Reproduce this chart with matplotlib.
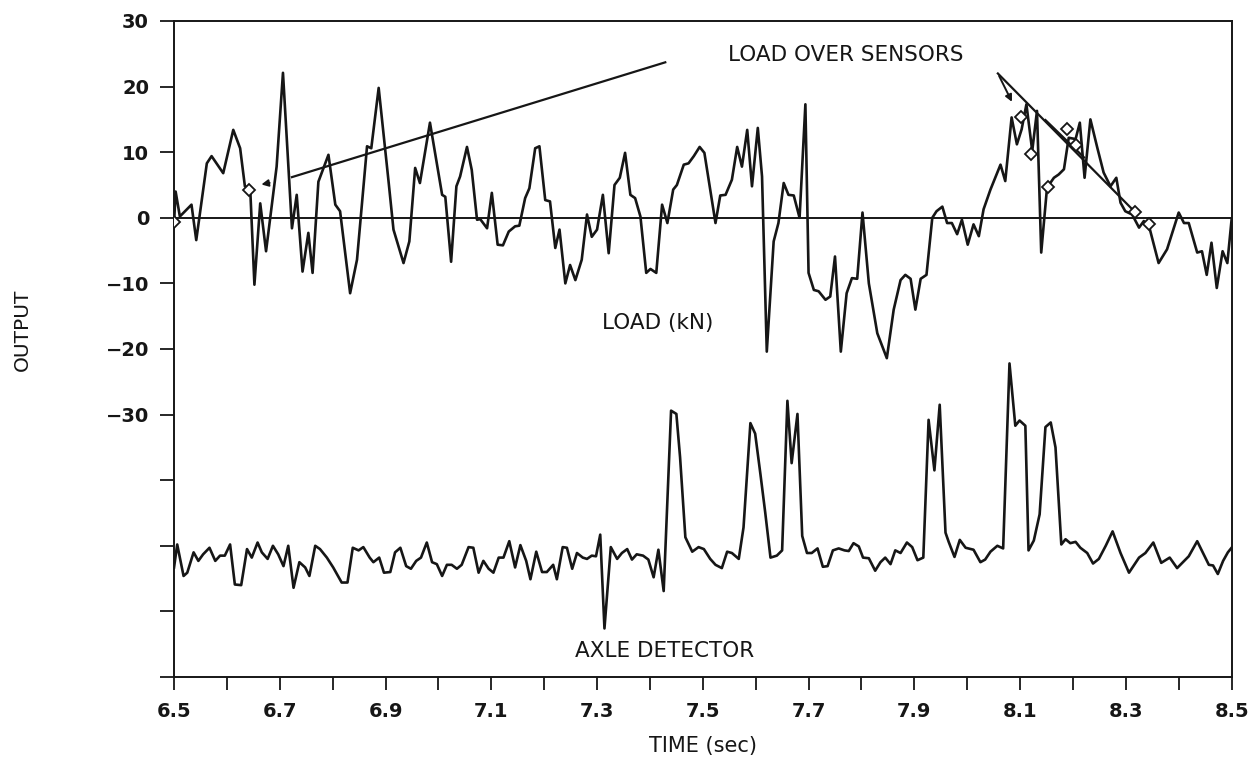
import matplotlib
matplotlib.use("Agg")
import matplotlib.pyplot as plt
import numpy as np

# ---------------- data ----------------
load_t = [6.500, 6.503, 6.511, 6.533, 6.542, 6.562, 6.571, 6.593, 6.612, 6.625, 6.634, 6.644,
          6.652, 6.663, 6.674, 6.694, 6.706, 6.723, 6.732, 6.743, 6.754, 6.762, 6.773, 6.792,
          6.805, 6.814, 6.833, 6.846, 6.865, 6.873, 6.887, 6.906, 6.915, 6.934, 6.945, 6.956,
          6.965, 6.984, 7.007, 7.013, 7.024, 7.034, 7.041, 7.054, 7.063, 7.073, 7.079, 7.092,
          7.101, 7.112, 7.122, 7.133, 7.145, 7.153, 7.164, 7.172, 7.183, 7.191, 7.202, 7.211,
          7.221, 7.229, 7.240, 7.249, 7.259, 7.271, 7.281, 7.290, 7.300, 7.311, 7.322, 7.333,
          7.343, 7.353, 7.363, 7.372, 7.382, 7.393, 7.401, 7.412, 7.423, 7.433, 7.444, 7.451,
          7.464, 7.473, 7.483, 7.494, 7.503, 7.513, 7.524, 7.533, 7.543, 7.555, 7.565, 7.574,
          7.584, 7.593, 7.604, 7.612, 7.621, 7.634, 7.643, 7.653, 7.662, 7.672, 7.683, 7.694,
          7.700, 7.710, 7.719, 7.732, 7.741, 7.750, 7.761, 7.772, 7.782, 7.792, 7.802, 7.814,
          7.830, 7.848, 7.861, 7.874, 7.883, 7.893, 7.902, 7.912, 7.923, 7.934, 7.942, 7.953,
          7.962, 7.971, 7.981, 7.990, 8.001, 8.012, 8.022, 8.031, 8.044, 8.063, 8.072, 8.084,
          8.094, 8.103, 8.112, 8.123, 8.132, 8.140, 8.151, 8.164, 8.173, 8.183, 8.192, 8.205,
          8.213, 8.222, 8.233, 8.246, 8.258, 8.271, 8.282, 8.290, 8.299, 8.312, 8.325, 8.334,
          8.344, 8.362, 8.378, 8.400, 8.410, 8.419, 8.435, 8.444, 8.453, 8.462, 8.472, 8.483,
          8.492, 8.500]
load_v = [-0.8, 4.0, 0.2, 2.0, -3.4, 8.3, 9.4, 6.8, 13.4, 10.6, 4.8, 4.5,
          -10.2, 2.2, -5.1, 7.8, 22.1, -1.6, 3.5, -8.2, -2.3, -8.4, 5.5, 9.6,
          2.0, 1.0, -11.5, -6.4, 10.9, 10.6, 19.8, 5.3, -1.8, -6.9, -3.6, 7.6,
          5.3, 14.5, 3.5, 3.2, -6.7, 4.8, 6.3, 10.8, 7.3, -0.3, -0.2, -1.6,
          3.8, -4.1, -4.2, -2.1, -1.3, -1.2, 3.0, 4.5, 10.6, 10.9, 2.7, 2.5,
          -4.6, -1.8, -10.0, -7.2, -9.5, -6.4, 0.5, -2.9, -1.8, 3.5, -5.4, 5.0,
          6.1, 9.9, 3.5, 3.0, 0.2, -8.4, -7.8, -8.4, 2.0, -0.8, 4.3, 5.0,
          8.1, 8.3, 9.4, 10.8, 9.9, 4.8, -0.8, 3.4, 3.5, 5.8, 10.8, 7.8,
          13.4, 4.8, 13.7, 6.3, -20.4, -3.6, -0.8, 5.3, 3.5, 3.4, 0.0, 17.3,
          -8.4, -11.0, -11.2, -12.5, -12.0, -5.9, -20.4, -11.5, -9.2, -9.3, 0.8, -10.0,
          -17.6, -21.4, -14.0, -9.5, -8.7, -9.3, -14.0, -9.3, -8.7, 0.0, 1.0, 1.7,
          -0.8, -0.8, -2.5, -0.3, -4.1, -1.0, -2.8, 1.3, 4.3, 8.1, 5.6, 15.3,
          11.2, 13.5, 17.3, 10.2, 16.3, -5.3, 4.6, 6.1, 6.6, 7.4, 12.2, 12.0,
          14.5, 6.1, 15.0, 10.7, 6.9, 4.8, 6.1, 2.3, 1.0, 0.5, -1.5, -0.5,
          -1.3, -6.9, -4.8, 0.8, -0.8, -0.8, -5.3, -5.1, -8.7, -3.8, -10.7, -5.1,
          -6.9, -0.3]

axle_t = [6.500, 6.506, 6.518, 6.525, 6.537, 6.546, 6.555, 6.567, 6.578, 6.587, 6.596, 6.606,
          6.615, 6.627, 6.638, 6.647, 6.658, 6.666, 6.677, 6.687, 6.697, 6.707, 6.716, 6.726,
          6.737, 6.748, 6.756, 6.767, 6.776, 6.789, 6.801, 6.817, 6.828, 6.838, 6.849, 6.858,
          6.870, 6.877, 6.888, 6.897, 6.909, 6.918, 6.928, 6.939, 6.948, 6.958, 6.967, 6.978,
          6.988, 6.997, 7.007, 7.016, 7.025, 7.035, 7.044, 7.057, 7.066, 7.076, 7.085, 7.095,
          7.104, 7.114, 7.123, 7.134, 7.145, 7.155, 7.166, 7.174, 7.185, 7.196, 7.205, 7.217,
          7.224, 7.235, 7.243, 7.253, 7.262, 7.273, 7.281, 7.290, 7.298, 7.306, 7.314, 7.326,
          7.338, 7.347, 7.357, 7.366, 7.375, 7.387, 7.397, 7.407, 7.416, 7.426, 7.440, 7.450,
          7.457, 7.467, 7.480, 7.492, 7.502, 7.514, 7.524, 7.536, 7.546, 7.555, 7.568, 7.577,
          7.590, 7.599, 7.609, 7.618, 7.628, 7.640, 7.650, 7.660, 7.668, 7.679, 7.688, 7.697,
          7.706, 7.717, 7.727, 7.736, 7.746, 7.757, 7.768, 7.776, 7.785, 7.795, 7.803, 7.814,
          7.826, 7.836, 7.845, 7.855, 7.864, 7.874, 7.886, 7.896, 7.906, 7.917, 7.927, 7.938,
          7.948, 7.959, 7.965, 7.976, 7.986, 7.997, 8.012, 8.025, 8.034, 8.044, 8.057, 8.068,
          8.080, 8.091, 8.099, 8.110, 8.116, 8.126, 8.137, 8.148, 8.158, 8.167, 8.178, 8.186,
          8.195, 8.205, 8.214, 8.227, 8.238, 8.249, 8.262, 8.275, 8.290, 8.306, 8.325, 8.337,
          8.352, 8.367, 8.383, 8.397, 8.419, 8.435, 8.457, 8.465, 8.474, 8.484, 8.493, 8.500]
axle_v = [-53.3, -49.8, -54.6, -54.1, -51.0, -52.3, -51.3, -50.3, -52.3, -51.5, -51.5, -49.8,
          -55.9, -56.0, -50.5, -51.8, -49.5, -51.0, -52.0, -50.0, -51.3, -53.1, -50.0, -56.4,
          -52.5, -53.3, -54.6, -50.0, -50.5, -51.8, -53.3, -55.6, -55.6, -50.3, -50.7, -50.2,
          -51.8, -52.5, -51.8, -54.1, -54.0, -51.0, -50.3, -53.1, -53.5, -52.3, -51.8, -49.5,
          -52.5, -52.8, -54.6, -52.9, -52.9, -53.5, -52.9, -50.2, -50.3, -54.1, -52.3, -53.5,
          -54.1, -51.8, -51.8, -49.3, -53.3, -49.9, -52.3, -55.1, -50.9, -54.0, -54.0, -52.9,
          -55.1, -50.2, -50.3, -53.5, -51.1, -51.8, -52.0, -51.5, -51.6, -48.3, -62.6, -50.2,
          -52.0, -51.1, -50.5, -52.1, -51.3, -51.5, -52.1, -54.8, -50.6, -56.9, -29.4, -29.9,
          -36.5, -48.7, -50.9, -50.2, -50.5, -52.0, -52.9, -53.4, -50.9, -51.1, -52.0, -47.2,
          -31.3, -32.9, -39.1, -44.9, -51.8, -51.5, -50.7, -27.9, -37.4, -29.9, -48.5, -51.1,
          -51.1, -50.4, -53.2, -53.1, -50.7, -50.4, -50.7, -50.8, -49.6, -50.1, -51.8, -51.9,
          -53.8, -52.5, -51.8, -52.8, -50.7, -51.1, -49.5, -50.2, -52.2, -51.8, -30.8, -38.5,
          -28.5, -48.0, -49.4, -51.7, -49.1, -50.3, -50.6, -52.5, -52.1, -50.9, -50.0, -50.4,
          -22.2, -31.7, -30.9, -31.7, -50.7, -49.2, -45.2, -31.9, -31.2, -35.0, -49.8, -49.0,
          -49.6, -49.4, -50.3, -51.1, -52.7, -52.0, -50.0, -47.8, -51.1, -54.1, -51.8, -51.1,
          -49.5, -52.6, -51.8, -53.4, -51.6, -49.3, -52.9, -53.0, -54.3, -52.3, -51.0, -50.3]

sensor_t = [6.500, 6.642, 8.101, 8.121, 8.152, 8.188, 8.205, 8.318, 8.344]
sensor_v = [-0.6, 4.3, 15.4, 9.8, 4.7, 13.5, 11.1, 0.9, -0.9]

yticks = [-70, -60, -50, -40, -30, -20, -10, 0, 10, 20, 30]
ytick_labels = ["", "", "", "", "\u221230", "\u221220", "\u221210", "0", "10", "20", "30"]
xticks_major = [6.5, 6.7, 6.9, 7.1, 7.3, 7.5, 7.7, 7.9, 8.1, 8.3, 8.5]
xticks_minor = [6.6, 6.8, 7.0, 7.2, 7.4, 7.6, 7.8, 8.0, 8.2, 8.4]

# ---------------- figure ----------------
plt.rcParams['font.family'] = ['DejaVu Sans']
fig = plt.figure(figsize=(12.53, 7.66), dpi=100)
ax = fig.add_axes([0.1389, 0.1162, 0.8440, 0.8564])

lc = '#161616'
ax.axhline(0, color=lc, lw=1.4, zorder=1)
ax.plot(load_t, load_v, color=lc, lw=1.9, zorder=2)
ax.plot(axle_t, axle_v, color=lc, lw=1.9, zorder=2)
ax.plot(sensor_t, sensor_v, ls='none', marker='D', ms=6.5, mfc='white', mec=lc, mew=1.3, zorder=3)

# annotation leader lines
ax.plot([6.723, 7.429], [6.2, 23.7], color=lc, lw=1.6)
ax.annotate('', xy=(6.660, 5.0), xytext=(6.686, 5.4),
            arrowprops=dict(arrowstyle='-|>', color=lc, lw=1.4, mutation_scale=10))
ax.plot([8.058, 8.322], [22.0, 0.5], color=lc, lw=1.6)
ax.annotate('', xy=(8.087, 17.3), xytext=(8.058, 22.0),
            arrowprops=dict(arrowstyle='-|>', color=lc, lw=1.4, mutation_scale=10))
ax.plot([8.148, 8.221], [14.9, 9.2], color=lc, lw=1.6)

ax.text(7.770, 24.8, "LOAD OVER SENSORS", fontsize=15.5, ha='center', va='center', color=lc)
ax.text(7.414, -16.0, "LOAD (kN)", fontsize=15.5, ha='center', va='center', color=lc)
ax.text(7.427, -66.0, "AXLE DETECTOR", fontsize=15.5, ha='center', va='center', color=lc)

ax.set_xlim(6.5, 8.5)
ax.set_ylim(-70, 30)
ax.set_yticks(yticks)
ax.set_yticklabels(ytick_labels)
ax.set_xticks(xticks_major)
ax.set_xticks(xticks_minor, minor=True)
ax.set_xticklabels([f"{v:.1f}" for v in xticks_major])

ax.tick_params(axis='y', direction='out', length=10, width=1.3, pad=8, labelsize=14, colors=lc)
ax.tick_params(axis='x', which='both', direction='out', length=9, width=1.3, pad=9, labelsize=14, colors=lc)
for lab in ax.get_xticklabels() + ax.get_yticklabels():
    lab.set_fontweight('bold')

for s in ax.spines.values():
    s.set_linewidth(1.4)
    s.set_color(lc)

ax.set_xlabel("TIME (sec)", fontsize=15, labelpad=11, color=lc)
fig.text(0.018, 0.57, "OUTPUT", rotation=90, fontsize=14.5, ha='center', va='center', color=lc)

fig.savefig("out.png", dpi=100)
